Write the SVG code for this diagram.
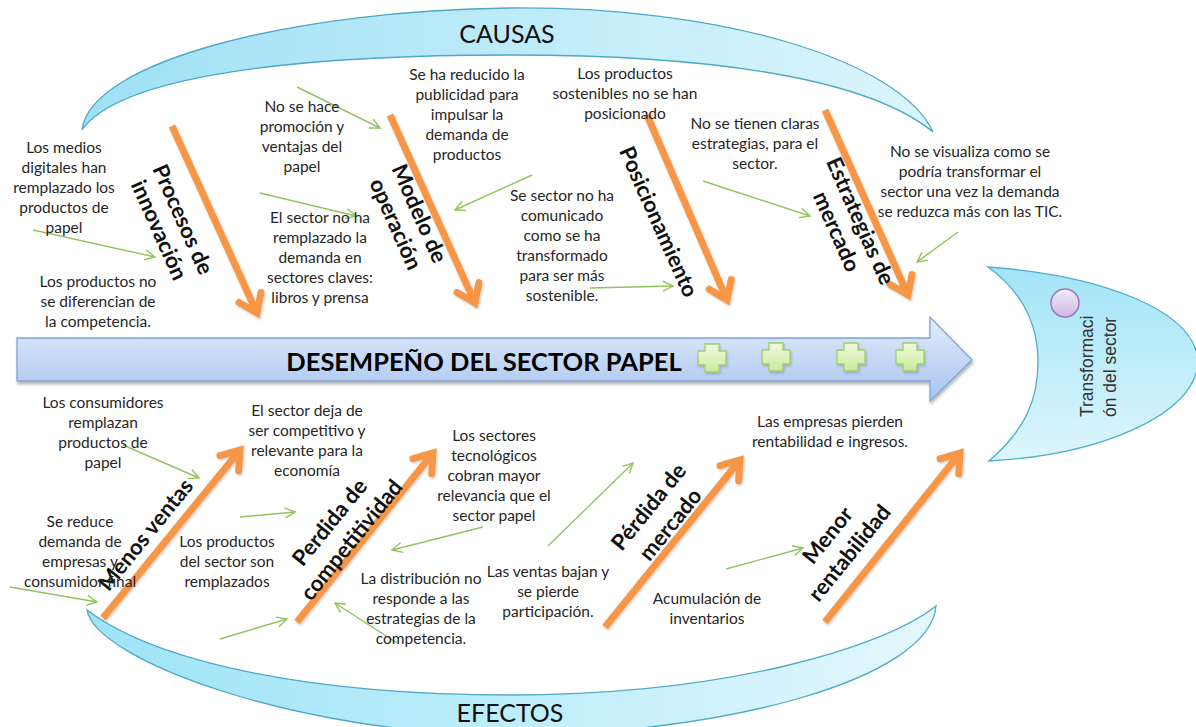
<svg xmlns="http://www.w3.org/2000/svg" width="1196" height="727" viewBox="0 0 1196 727">
  <defs>
    <style>
      .t { font-family: Lato, "Open Sans", "Liberation Sans", sans-serif; font-size: 15.5px; fill: #262626; text-anchor: middle; }
      .b { font-family: Lato, "Liberation Sans", sans-serif; font-size: 22px; font-weight: bold; fill: #111; text-anchor: middle; }
      .h { font-family: Lato, "Liberation Sans", sans-serif; font-size: 25px; fill: #111; text-anchor: middle; }
      .bone { fill: none; stroke: #f79646; stroke-width: 7; marker-end: url(#oa); }
      .g { fill: none; stroke: #92c45e; stroke-width: 1.4; marker-end: url(#ga); }
      .arc { stroke: #4fa8c6; stroke-width: 1.3; }
      .cross { fill: url(#crossG); stroke: #9fcd6e; stroke-width: 1.3; stroke-linejoin: round; }
    </style>
    <linearGradient id="topG" x1="0" y1="0" x2="1" y2="0">
      <stop offset="0" stop-color="#9fe0f5"/>
      <stop offset="0.5" stop-color="#bdebf9"/>
      <stop offset="1" stop-color="#dcf5fc"/>
    </linearGradient>
    <linearGradient id="botG" x1="0" y1="0" x2="1" y2="0">
      <stop offset="0" stop-color="#9fe3f7"/>
      <stop offset="0.5" stop-color="#bdeefb"/>
      <stop offset="1" stop-color="#e4f7fd"/>
    </linearGradient>
    <linearGradient id="headG" x1="0" y1="0" x2="0" y2="1">
      <stop offset="0" stop-color="#a2e4f7"/>
      <stop offset="1" stop-color="#def6fd"/>
    </linearGradient>
    <linearGradient id="arrowG" x1="0" y1="0" x2="0" y2="1">
      <stop offset="0" stop-color="#e4edfc"/>
      <stop offset="1" stop-color="#a7c3ef"/>
    </linearGradient>
    <linearGradient id="crossG" x1="0" y1="0" x2="0" y2="1">
      <stop offset="0" stop-color="#f1fbdc"/>
      <stop offset="1" stop-color="#c9ea9d"/>
    </linearGradient>
    <linearGradient id="circG" x1="0" y1="0" x2="0" y2="1">
      <stop offset="0" stop-color="#f3ecfa"/>
      <stop offset="1" stop-color="#cdb8e4"/>
    </linearGradient>
    <filter id="sh" x="-10%" y="-30%" width="120%" height="160%">
      <feDropShadow dx="1" dy="2.5" stdDeviation="1.8" flood-color="#000" flood-opacity="0.3"/>
    </filter>
    <filter id="sh2" x="-20%" y="-20%" width="140%" height="140%">
      <feDropShadow dx="1" dy="1.5" stdDeviation="1" flood-color="#000" flood-opacity="0.2"/>
    </filter>
    <marker id="oa" viewBox="0 0 30 30" refX="26" refY="15" markerWidth="30" markerHeight="30" markerUnits="userSpaceOnUse" orient="auto" overflow="visible">
      <path d="M9,3 L26,15 L9,27" fill="none" stroke="#f79646" stroke-width="7" stroke-linecap="round"/>
    </marker>
    <marker id="ga" viewBox="0 0 12 12" refX="11" refY="6" markerWidth="12" markerHeight="12" markerUnits="userSpaceOnUse" orient="auto" overflow="visible">
      <path d="M1,1 L11,6 L1,11" fill="none" stroke="#92c45e" stroke-width="1.4"/>
    </marker>
    <path id="crossP" d="M-7,-14 H7 V-7 H14 V7 H7 V14 H-7 V7 H-14 V-7 H-7 Z"/>
  </defs>

  <!-- CAUSAS arc -->
  <g id="causas">
    <path class="arc" fill="url(#topG)" d="M82,130 C90,60 300,10 510,8 C720,6 900,60 933,132 C870,80 720,55 510,55 C300,55 120,75 82,130 Z"/>
    <text class="h" x="507" y="43">CAUSAS</text>
  </g>

  <!-- EFECTOS arc -->
  <g id="efectos">
    <path class="arc" fill="url(#botG)" d="M87,610 C95,660 300,735 510,735 C720,735 930,680 936,606 C880,650 720,695 510,695 C320,695 160,665 87,610 Z"/>
    <text class="h" x="510" y="722">EFECTOS</text>
  </g>

  <!-- Head -->
  <g id="head">
    <path fill="url(#headG)" stroke="#4fb0cc" stroke-width="1.3" d="M988,267 C1100,275 1196,310 1198,362 C1196,415 1100,455 989,461 C1025,430 1038,400 1038,362 C1038,320 1020,290 988,267 Z"/>
    <circle cx="1065" cy="303" r="14" fill="url(#circG)" stroke="#9b7bc0" stroke-width="1.5"/>
    <text transform="translate(1093,417) rotate(-90)" font-family="'Liberation Sans', Arial, sans-serif" font-size="17.5" fill="#333">Transformaci</text>
    <text transform="translate(1116,417) rotate(-90)" font-family="'Liberation Sans', Arial, sans-serif" font-size="17.5" fill="#333">ón del sector</text>
  </g>

  <!-- Main arrow -->
  <g id="spine">
    <path filter="url(#sh)" fill="url(#arrowG)" stroke="#7fa3d9" stroke-width="1.3" d="M17,338 H930 V317 L972,360 L930,401 V381 H17 Z"/>
    <text x="484" y="371" font-family="Lato, 'Liberation Sans', sans-serif" font-size="25.5" font-weight="bold" fill="#000" text-anchor="middle">DESEMPEÑO DEL SECTOR PAPEL</text>
    <g filter="url(#sh2)">
      <use href="#crossP" class="cross" transform="translate(712,358)"/>
      <use href="#crossP" class="cross" transform="translate(776,357)"/>
      <use href="#crossP" class="cross" transform="translate(851,357)"/>
      <use href="#crossP" class="cross" transform="translate(910,357)"/>
    </g>
  </g>

  <!-- Connectors -->
  <g id="connectors">
    <g filter="url(#sh2)">
      <line class="bone" x1="172" y1="126" x2="257" y2="313"/>
      <line class="bone" x1="390" y1="115" x2="475" y2="303"/>
      <line class="bone" x1="647" y1="115" x2="727" y2="300"/>
      <line class="bone" x1="825" y1="110" x2="908" y2="295"/>
      <line class="bone" x1="103" y1="618" x2="240" y2="450"/>
      <line class="bone" x1="297" y1="622" x2="433" y2="453"/>
      <line class="bone" x1="605" y1="627" x2="740" y2="460"/>
      <line class="bone" x1="825" y1="622" x2="960" y2="453"/>
    </g>
    <line class="g" x1="33" y1="230" x2="155" y2="257"/>
    <line class="g" x1="297" y1="87" x2="380" y2="128"/>
    <line class="g" x1="260" y1="193" x2="356" y2="216"/>
    <line class="g" x1="532" y1="175" x2="455" y2="210"/>
    <line class="g" x1="590" y1="288" x2="673" y2="286"/>
    <line class="g" x1="703" y1="181" x2="810" y2="216"/>
    <line class="g" x1="958" y1="232" x2="917" y2="262"/>
    <line class="g" x1="123" y1="445" x2="199" y2="478"/>
    <line class="g" x1="10" y1="587" x2="97" y2="602"/>
    <line class="g" x1="240" y1="517" x2="295" y2="512"/>
    <line class="g" x1="220" y1="639" x2="287" y2="619"/>
    <line class="g" x1="483" y1="527" x2="392" y2="550"/>
    <line class="g" x1="397" y1="643" x2="335" y2="603"/>
    <line class="g" x1="548" y1="546" x2="633" y2="463"/>
    <line class="g" x1="726" y1="569" x2="803" y2="548"/>
  </g>

  <!-- Bone labels -->
  <g id="lbl-procesos" transform="translate(170.5,225) rotate(66)">
    <text class="b" x="0" y="-6">Procesos de</text>
    <text class="b" x="0" y="20">innovación</text>
  </g>
  <g id="lbl-modelo" transform="translate(407,219) rotate(66)">
    <text class="b" x="0" y="-6">Modelo de</text>
    <text class="b" x="0" y="20">operación</text>
  </g>
  <g id="lbl-posicionamiento" transform="translate(658,222) rotate(66)">
    <text class="b" x="0" y="7">Posicionamiento</text>
  </g>
  <g id="lbl-estrategias" transform="translate(848,226.5) rotate(66)">
    <text class="b" x="0" y="-6">Estrategias de</text>
    <text class="b" x="0" y="20">mercado</text>
  </g>
  <g id="lbl-menos" transform="translate(146,535) rotate(-51)">
    <text class="b" x="0" y="7">Menos ventas</text>
  </g>
  <g id="lbl-perdida-comp" transform="translate(341,531.5) rotate(-51)">
    <text class="b" x="0" y="-7">Perdida de</text>
    <text class="b" x="0" y="21">competitividad</text>
  </g>
  <g id="lbl-perdida-merc" transform="translate(660,516) rotate(-51)">
    <text class="b" x="0" y="-7">Pérdida de</text>
    <text class="b" x="0" y="21">mercado</text>
  </g>
  <g id="lbl-menor" transform="translate(839,544.5) rotate(-51)">
    <text class="b" x="0" y="-7">Menor</text>
    <text class="b" x="0" y="21">rentabilidad</text>
  </g>

  <!-- Cause texts -->
  <g id="c-medios">
    <text class="t" x="64" y="153">Los medios</text>
    <text class="t" x="64" y="173">digitales han</text>
    <text class="t" x="64" y="193">remplazado los</text>
    <text class="t" x="64" y="213">productos de</text>
    <text class="t" x="64" y="233">papel</text>
  </g>
  <g id="c-diferencian">
    <text class="t" x="98" y="287">Los productos no</text>
    <text class="t" x="98" y="307">se diferencian de</text>
    <text class="t" x="98" y="327">la competencia.</text>
  </g>
  <g id="c-promocion">
    <text class="t" x="302" y="112">No se hace</text>
    <text class="t" x="302" y="132">promoción y</text>
    <text class="t" x="302" y="152">ventajas del</text>
    <text class="t" x="302" y="172">papel</text>
  </g>
  <g id="c-remplazado">
    <text class="t" x="320" y="223">El sector no ha</text>
    <text class="t" x="320" y="243">remplazado la</text>
    <text class="t" x="320" y="263">demanda en</text>
    <text class="t" x="320" y="283">sectores claves:</text>
    <text class="t" x="320" y="303">libros y prensa</text>
  </g>
  <g id="c-publicidad">
    <text class="t" x="467" y="80">Se ha reducido la</text>
    <text class="t" x="467" y="100">publicidad para</text>
    <text class="t" x="467" y="120">impulsar la</text>
    <text class="t" x="467" y="140">demanda de</text>
    <text class="t" x="467" y="160">productos</text>
  </g>
  <g id="c-sostenibles">
    <text class="t" x="625" y="79">Los productos</text>
    <text class="t" x="625" y="99">sostenibles no se han</text>
    <text class="t" x="625" y="119">posicionado</text>
  </g>
  <g id="c-comunicado">
    <text class="t" x="562" y="201">Se sector no ha</text>
    <text class="t" x="562" y="221">comunicado</text>
    <text class="t" x="562" y="241">como se ha</text>
    <text class="t" x="562" y="261">transformado</text>
    <text class="t" x="562" y="281">para ser más</text>
    <text class="t" x="562" y="301">sostenible.</text>
  </g>
  <g id="c-estrategias">
    <text class="t" x="755" y="129">No se tienen claras</text>
    <text class="t" x="755" y="149">estrategias,  para el</text>
    <text class="t" x="755" y="169">sector.</text>
  </g>
  <g id="c-visualiza">
    <text class="t" x="970" y="157">No se visualiza como se</text>
    <text class="t" x="970" y="177">podría transformar el</text>
    <text class="t" x="970" y="197">sector una vez  la demanda</text>
    <text class="t" x="970" y="217">se reduzca más con las TIC.</text>
  </g>

  <!-- Effect texts -->
  <g id="e-consumidores">
    <text class="t" x="103" y="408">Los consumidores</text>
    <text class="t" x="103" y="428">remplazan</text>
    <text class="t" x="103" y="448">productos de</text>
    <text class="t" x="103" y="468">papel</text>
  </g>
  <g id="e-competitivo">
    <text class="t" x="307" y="416">El sector deja de</text>
    <text class="t" x="307" y="436">ser competitivo y</text>
    <text class="t" x="307" y="456">relevante para la</text>
    <text class="t" x="307" y="476">economía</text>
  </g>
  <g id="e-reduce">
    <text class="t" x="80" y="527">Se reduce</text>
    <text class="t" x="80" y="547">demanda de</text>
    <text class="t" x="80" y="567">empresas y</text>
    <text class="t" x="80" y="587">consumidor final</text>
  </g>
  <g id="e-remplazados">
    <text class="t" x="227" y="547">Los productos</text>
    <text class="t" x="227" y="567">del sector son</text>
    <text class="t" x="227" y="587">remplazados</text>
  </g>
  <g id="e-tecnologicos">
    <text class="t" x="494" y="441">Los sectores</text>
    <text class="t" x="494" y="461">tecnológicos</text>
    <text class="t" x="494" y="481">cobran mayor</text>
    <text class="t" x="494" y="501">relevancia que el</text>
    <text class="t" x="494" y="521">sector papel</text>
  </g>
  <g id="e-distribucion">
    <text class="t" x="421" y="584">La distribución no</text>
    <text class="t" x="421" y="604">responde a las</text>
    <text class="t" x="421" y="624">estrategias de la</text>
    <text class="t" x="421" y="644">competencia.</text>
  </g>
  <g id="e-ventas">
    <text class="t" x="548" y="577">Las ventas bajan y</text>
    <text class="t" x="548" y="597">se pierde</text>
    <text class="t" x="548" y="617">participación.</text>
  </g>
  <g id="e-inventarios">
    <text class="t" x="707" y="604">Acumulación de</text>
    <text class="t" x="707" y="624">inventarios</text>
  </g>
  <g id="e-rentabilidad">
    <text class="t" x="830" y="427">Las empresas pierden</text>
    <text class="t" x="830" y="447">rentabilidad e ingresos.</text>
  </g>
</svg>
